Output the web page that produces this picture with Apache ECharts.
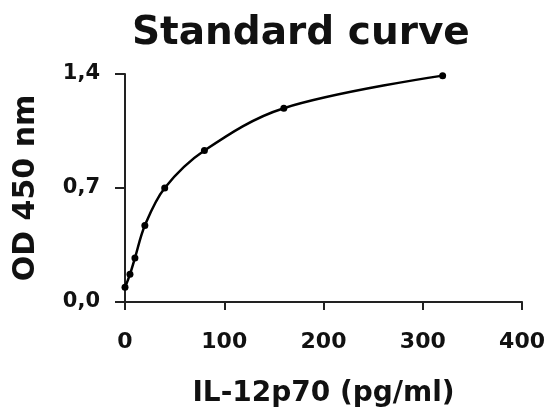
<!DOCTYPE html>
<html>
<head>
<meta charset="utf-8">
<script src="https://cdn.jsdelivr.net/npm/echarts@6/dist/echarts.min.js"></script>
<style>html,body{margin:0;padding:0;background:#fff}#c{width:548px;height:416px}</style>
</head>
<body>
<div id="c"></div>
<script>
var concentrations = [0, 5, 10, 20, 40, 80, 160, 320];
var odValues = [0.09, 0.17, 0.27, 0.47, 0.70, 0.93, 1.19, 1.39];
var xTicks = [0, 100, 200, 300, 400];
var yTicks = ['0,0', '0,7', '1,4'];
var titleText = 'Standard curve';
var xName = 'IL-12p70 (pg/ml)';
var yName = 'OD 450 nm';

var pts = concentrations.map(function (c, i) { return [c, odValues[i]]; });
var font = 'DejaVu Sans';
var chart = echarts.init(document.getElementById('c'), null, {renderer: 'canvas'});
chart.setOption({
  animation: false,
  backgroundColor: '#fff',
  title: {
    text: titleText, left: 127, top: 9,
    textStyle: {fontFamily: font, fontWeight: 'bold', fontSize: 39, color: '#111'}
  },
  grid: {left: 125, right: 25, top: 74, bottom: 114},
  xAxis: {
    type: 'value', min: 0, max: 400, interval: 100,
    name: xName, nameLocation: 'middle', nameGap: 78,
    nameTextStyle: {fontFamily: font, fontWeight: 'bold', fontSize: 28, color: '#111'},
    axisLine: {lineStyle: {color: '#222', width: 2}},
    axisTick: {length: 8, lineStyle: {color: '#222', width: 2}},
    axisLabel: {margin: 29, fontFamily: font, fontWeight: 'bold', fontSize: 22, color: '#111',
      formatter: function (v) { return String(xTicks[Math.round(v / 100)]); }},
    splitLine: {show: false}
  },
  yAxis: {
    type: 'value', min: 0, max: 1.4, interval: 0.7,
    name: yName, nameLocation: 'middle', nameGap: 84, nameRotate: 90,
    nameTextStyle: {fontFamily: font, fontWeight: 'bold', fontSize: 30, color: '#111'},
    axisLine: {show: true, lineStyle: {color: '#222', width: 2}},
    axisTick: {show: true, length: 10, lineStyle: {color: '#222', width: 2}},
    axisLabel: {
      margin: 25, fontFamily: font, fontWeight: 'bold', fontSize: 21, color: '#111',
      padding: [12, 0, 0, 0],
      formatter: function (v) { return yTicks[Math.round(v / 0.7)]; }
    },
    splitLine: {show: false}
  },
  series: [{
    type: 'line', data: pts, smooth: 0.35,
    symbol: 'circle', symbolSize: 7,
    itemStyle: {color: '#000'},
    lineStyle: {color: '#000', width: 2.5}
  }]
});
</script>
</body>
</html>
